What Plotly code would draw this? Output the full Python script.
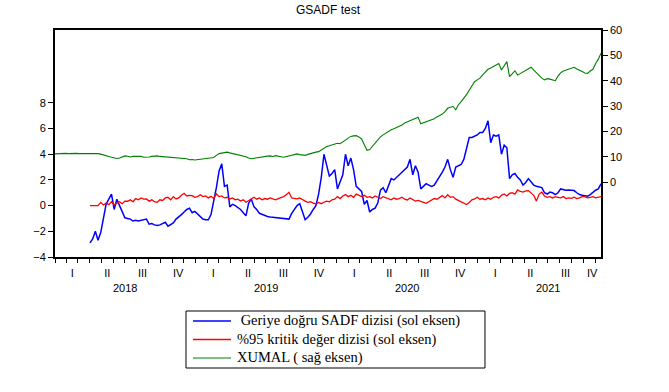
import plotly.graph_objects as go
import pandas as pd

# XUMAL (right axis), weekly readings from 2018-01-01 to 2021-11-16
green = [
    11.1, 11.2, 11.3, 11.4, 11.3, 11.2, 11.3, 11.2, 11.3, 11.2,
    11.2, 11.3, 11.1, 11.2, 11.2, 11.1, 11.2, 11.0, 10.8, 10.3,
    10.1, 9.8, 9.5, 9.3, 9.5, 9.9, 10.3, 10.2, 9.9, 10.1,
    10.2, 10.0, 10.1, 9.8, 9.7, 9.9, 10.1, 10.2, 10.3, 10.1,
    10.0, 9.9, 9.8, 9.7, 9.8, 9.6, 9.5, 9.4, 9.3, 9.2,
    8.8, 8.9, 8.7, 8.8, 8.9, 9.0, 9.1, 9.2, 9.4, 9.7,
    10.5, 11.2, 11.4, 11.6, 11.8, 11.5, 11.3, 11.1, 10.9, 10.7,
    10.4, 10.0, 9.5, 9.2, 9.4, 9.6, 9.9, 10.1, 10.0, 10.2,
    10.3, 10.1, 10.4, 10.3, 10.0, 9.8, 10.0, 10.4, 10.7, 10.9,
    11.1, 10.8, 10.6, 10.5, 10.9, 11.3, 11.6, 11.8, 12.0, 12.6,
    13.5, 14.0, 14.3, 14.6, 15.0, 15.3, 15.1, 15.8, 16.6, 17.3,
    18.0, 18.2, 18.3, 17.8, 17.0, 14.7, 12.5, 12.8, 14.0, 15.5,
    16.8, 17.8, 18.6, 19.3, 20.0, 20.6, 21.0, 21.4, 21.8, 22.5,
    23.3, 23.8, 24.3, 24.8, 25.3, 25.6, 23.0, 23.4, 23.8, 24.0,
    24.3, 25.0, 25.7, 26.3, 26.8, 27.8, 29.1, 29.5, 29.8, 28.5,
    30.5, 31.7, 33.0, 34.5, 36.2, 37.9, 39.6, 40.3, 41.0, 42.3,
    43.5, 44.5, 45.0, 45.5, 46.0, 46.8, 44.2, 46.0, 47.5, 41.6,
    42.8, 43.9, 42.2, 42.8, 43.5, 44.2, 44.8, 45.3, 44.2, 43.1,
    42.0, 41.0, 40.3, 40.8, 40.6, 40.2, 40.0, 41.8, 43.1, 43.8,
    44.2, 44.5, 44.9, 45.3, 44.6, 44.2, 43.6, 43.0, 42.9, 43.8,
    44.5, 46.8, 48.5, 50.8,
]

# Backward SADF sequence (left axis), starts in April 2018
blue = [
    -2.9, -2.6, -2.0, -2.7, -2.1, -1.1, 0.1,
    0.5, 0.9, -0.3, 0.5, 0.0, -0.5, -0.95, -1.0, -1.05, -1.2,
    -1.15, -1.2, -1.15, -1.1, -1.05, -1.45, -1.4, -1.5, -1.55, -1.5,
    -1.4, -1.3, -1.6, -1.5, -1.35, -1.05, -0.9, -0.7, -0.5, -0.3,
    -0.2, -0.55, -0.45, -0.65, -0.9, -1.05, -1.1, -1.1, -0.7, 0.3,
    1.4, 2.7, 3.25, 1.5, 1.6, -0.1, 0.1, 0.0, -0.15, -0.3,
    -0.55, -0.8, 0.2, 0.5, -0.1, -0.3, -0.6, -0.7, -0.8, -0.85,
    -0.88, -0.9, -0.92, -0.95, -0.96, -1.0, -1.02, -1.05, -0.6, -0.3,
    0.0, 0.15, -0.4, -1.1, -0.9, -0.65, -0.3, 0.0, 0.9, 2.2,
    4.0, 3.2, 2.3, 2.5, 2.8, 1.3, 1.9, 2.4, 4.0, 3.1,
    3.7, 2.8, 1.5, 1.3, 1.1, 0.1, 0.4, -0.5, -0.3, -0.2,
    0.2, 1.2, 1.4, 1.0, 1.6, 2.1, 2.0, 2.2, 2.4, 2.6,
    2.8, 3.0, 3.6, 2.4, 3.1, 2.6, 1.3, 1.5, 1.7, 1.6,
    1.5, 1.6, 1.9, 2.2, 2.6, 3.0, 3.6, 2.8, 2.2, 3.0,
    3.1, 3.2, 3.6, 4.5, 5.3, 5.3, 5.4, 5.5, 5.7, 5.7,
    6.0, 6.6, 4.9, 5.5, 5.4, 5.5, 4.0, 4.7, 4.5, 2.1,
    2.4, 2.5, 2.2, 2.0, 1.6, 1.8, 2.1, 1.8, 1.6, 1.5,
    1.45, 1.4, 1.0, 0.9, 1.05, 1.0, 0.85, 1.0, 1.3, 1.25,
    1.2, 1.22, 1.2, 1.17, 1.0, 0.86, 0.8, 0.75, 0.73, 0.85,
    1.05, 1.2, 1.3, 1.7,
]

# 95% critical value sequence (left axis)
red = [
    0.0, 0.0, 0.0, 0.0, 0.25, 0.05, 0.2,
    0.08, 0.3, 0.05, 0.18, 0.3, 0.15, 0.35, 0.34, 0.45, 0.3,
    0.55, 0.45, 0.6, 0.5, 0.52, 0.35, 0.45, 0.3, 0.26, 0.45,
    0.4, 0.6, 0.65, 0.45, 0.7, 0.52, 0.6, 0.8, 0.96, 0.75,
    0.8, 0.78, 0.65, 0.7, 0.85, 0.7, 0.75, 0.6, 0.72, 0.55,
    0.91, 0.7, 0.75, 0.6, 0.65, 0.52, 0.6, 0.45, 0.5, 0.35,
    0.45, 0.26, 0.4, 0.55, 0.65, 0.5, 0.6, 0.45, 0.55, 0.5,
    0.6, 0.52, 0.45, 0.55, 0.6, 0.7, 0.85, 1.04, 0.6, 0.55,
    0.52, 0.6, 0.45, 0.35, 0.26, 0.3, 0.2, 0.13, 0.25, 0.15,
    0.26, 0.35, 0.3, 0.45, 0.5, 0.7, 0.55, 0.75, 0.86, 0.7,
    0.8, 0.65, 0.9, 0.78, 0.7, 0.8, 0.65, 0.7, 0.6, 0.75,
    0.65, 0.55, 0.7, 0.6, 0.52, 0.45, 0.6, 0.5, 0.55, 0.65,
    0.5, 0.44, 0.6, 0.45, 0.35, 0.4, 0.3, 0.25, 0.18, 0.3,
    0.4, 0.55, 0.5, 0.65, 0.78, 0.6, 0.85, 0.65, 0.7, 0.5,
    0.4, 0.3, 0.2, 0.08, 0.25, 0.45, 0.52, 0.65, 0.5, 0.55,
    0.45, 0.6, 0.5, 0.65, 0.7, 0.6, 0.8, 0.91, 0.75, 0.95,
    1.0, 0.9, 1.22, 1.1, 1.05, 1.15, 1.17, 1.0, 0.8, 0.35,
    0.9, 1.04, 0.75, 0.65, 0.7, 0.6, 0.7, 0.65, 0.6, 0.7,
    0.55, 0.6, 0.57, 0.65, 0.55, 0.6, 0.7, 0.7, 0.6, 0.65,
    0.7, 0.6, 0.65, 0.7,
]

names = [
    " Geriye doğru SADF dizisi (sol eksen)",
    "%95 kritik değer dizisi (sol eksen)",
    "XUMAL ( sağ eksen)",
]
colors = ["#0000FF", "#FF0000", "#008000"]
widths = [1.5, 1.3, 1.1]
quarter_labels = ["I", "II", "III", "IV"]
years = [2018, 2019, 2020, 2021]
left_ticks = [-4, -2, 0, 2, 4, 6, 8]
right_ticks = [0, 10, 20, 30, 40, 50, 60]

x_start = pd.Timestamp("2018-01-01")
x_end = pd.Timestamp("2021-11-16")
dates = pd.date_range(x_start, x_end, periods=len(green))
offset = len(green) - len(blue)
dates_lr = dates[offset:]

# quarter label positions: middle of the visible part of each quarter
qvals, qtext = [], []
for y in years:
    for qi, lab in enumerate(quarter_labels):
        qs = pd.Timestamp(year=y, month=3 * qi + 1, day=1)
        qe = qs + pd.offsets.QuarterBegin(startingMonth=1)
        a, b = max(qs, x_start), min(qe, x_end)
        if a < b:
            qvals.append(a + (b - a) / 2)
            qtext.append(lab)

FONT = "Arial, Liberation Sans, sans-serif"
SERIF = "Liberation Serif, serif"

fig = go.Figure()
series = [(dates_lr, blue, "y"), (dates_lr, red, "y"), (dates, green, "y2")]
for (xs, ys, ax), nm, c, w in zip(series, names, colors, widths):
    fig.add_trace(go.Scatter(x=xs, y=ys, name=nm, mode="lines",
                             line=dict(color=c, width=w), yaxis=ax,
                             showlegend=False))

for y in years:
    fig.add_annotation(x=pd.Timestamp(year=y, month=7, day=1), y=-0.135,
                       xref="x", yref="paper", text=str(y), showarrow=False,
                       font=dict(family=FONT, size=11, color="black"),
                       yanchor="middle")

# legend box drawn below the plot (paper coordinates)
fig.add_shape(type="rect", xref="paper", yref="paper",
              x0=0.2399, x1=0.7875, y0=-0.2379, y1=-0.489,
              line=dict(color="black", width=1), fillcolor="rgba(0,0,0,0)")
row_y = [-0.2819, -0.3634, -0.4449]
for ry, nm, c, w in zip(row_y, names, colors, widths):
    fig.add_shape(type="line", xref="paper", yref="paper",
                  x0=0.2527, x1=0.3223, y0=ry, y1=ry,
                  line=dict(color=c, width=w))
    fig.add_annotation(x=0.3297, y=ry, xref="paper", yref="paper",
                       text=nm.replace(" ", "&nbsp;", 1) if nm.startswith(" ") else nm,
                       showarrow=False, xanchor="left", yanchor="middle",
                       font=dict(family=SERIF, size=14.5, color="black"))

fig.update_layout(
    width=669, height=392,
    margin=dict(l=55, r=68, t=30, b=135),
    paper_bgcolor="white", plot_bgcolor="white",
    title=dict(text="GSADF test", x=0.5, xref="paper", y=0.976, yanchor="middle",
               font=dict(family=FONT, size=12, color="black")),
    font=dict(family=FONT, size=11, color="black"),
    showlegend=False,
    xaxis=dict(
        range=[x_start, x_end], tickmode="array", tickvals=qvals, ticktext=qtext,
        ticks="", showgrid=False, zeroline=False, ticklabelstandoff=5,
        showline=True, linecolor="black", linewidth=1.5, mirror=True,
        tickfont=dict(family=FONT, size=11, color="black"),
        minor=dict(ticks="outside", ticklen=4, tickcolor="black", dtick="M1",
                   tick0="2018-01-01", showgrid=False),
    ),
    yaxis=dict(
        range=[-4, 13.67], tickmode="array", tickvals=left_ticks,
        ticks="outside", ticklen=5, tickcolor="black", showgrid=False,
        zeroline=False, showline=True, linecolor="black", linewidth=2,
        tickfont=dict(family=FONT, size=11, color="black"),
    ),
    yaxis2=dict(
        range=[-29.6, 60], tickmode="array", tickvals=right_ticks,
        overlaying="y", side="right", anchor="x",
        ticks="outside", ticklen=5, tickcolor="black", showgrid=False,
        zeroline=False, showline=True, linecolor="black", linewidth=1.5,
        tickfont=dict(family=FONT, size=11, color="black"),
    ),
)

fig.write_html("out.html", config={"displayModeBar": False},
               post_script="document.body.style.margin='0px';")
